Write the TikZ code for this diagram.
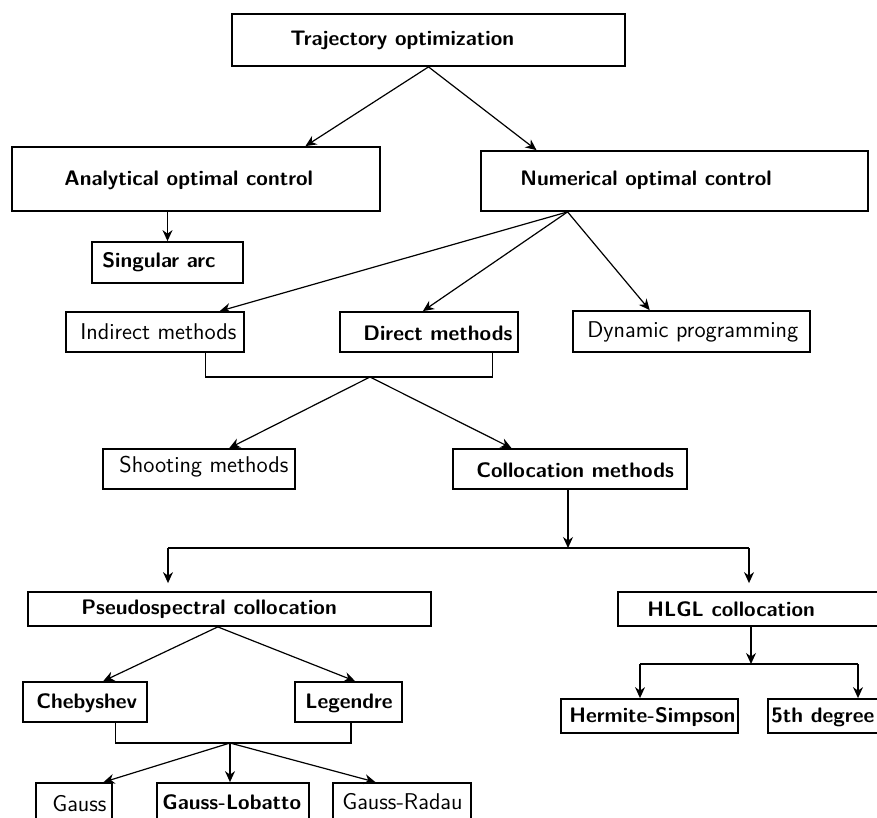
\documentclass[tikz,border=0pt]{standalone}
\usetikzlibrary{arrows.meta,calc,fit}
\begin{document}
\begin{tikzpicture}[
  x={(0.5pt,0)}, y={(0,-0.5pt)},
  box/.style={draw, line width=0.9pt, inner sep=0pt},
  lbl/.style={anchor=west, inner sep=0pt, font=\sffamily\fontsize{11.4}{13}\selectfont},
  blbl/.style={anchor=west, inner sep=0pt, font=\sffamily\bfseries\fontsize{10.5}{12}\selectfont},
  arr/.style={-{Stealth[length=5.5pt,width=5pt]}, line width=0.6pt},
  ln/.style={line width=0.6pt}
]
\clip (0,0) rectangle (877,818);

% ---- boxes ----
\node[box, fit={(232,14) (625,66)}]   (traj) {};
\node[box, fit={(12,147) (380,211)}]  (ana)  {};
\node[box, fit={(481,151) (868,211)}] (num)  {};
\node[box, fit={(92,242) (243,283)}]  (sing) {};
\node[box, fit={(66,312) (244,352)}]  (ind)  {};
\node[box, fit={(340,312) (518,352)}] (dir)  {};
\node[box, fit={(573,311) (810,352)}] (dyn)  {};
\node[box, fit={(103,449) (295,489)}] (shoot) {};
\node[box, fit={(453,449) (687,489)}] (col)  {};
\node[box, fit={(28,592) (431,626)}]  (ps)   {};
\node[box, fit={(618,592) (890,626)}] (hlgl) {};
\node[box, fit={(23,682) (147,722)}]  (cheb) {};
\node[box, fit={(295,682) (402,722)}] (leg)  {};
\node[box, fit={(561,699) (738,733)}] (herm) {};
\node[box, fit={(768,699) (890,733)}] (fifth) {};
\node[box, fit={(36,783) (112,840)}]  (gauss) {};
\node[box, fit={(157,783) (309,840)}] (lob)  {};
\node[box, fit={(333,783) (471,840)}] (rad)  {};

% ---- labels ----
\node[blbl] (trajt)  at (290,40)  {Trajectory optimization};
\node[blbl] (anat)   at (64,180)  {Analytical optimal control};
\node[blbl] (numt)   at (520,180) {Numerical optimal control};
\node[blbl] (singt)  at (102,262) {Singular arc};
\node[lbl]  (indt)   at (80,332)  {Indirect methods};
\node[blbl] (dirt)   at (363,333) {Direct methods};
\node[lbl]  (dynt)   at (587,332) {Dynamic programming};
\node[lbl]  (shoott) at (119,467) {Shooting methods};
\node[blbl] (colt)   at (476,470) {Collocation methods};
\node[blbl] (pst)    at (81,609)  {Pseudospectral collocation};
\node[blbl] (hlglt)  at (647,609) {HLGL collocation};
\node[blbl] (chebt)  at (36,703)  {Chebyshev};
\node[blbl] (legt)   at (305,703) {Legendre};
\node[blbl] (hermt)  at (569,717) {Hermite-Simpson};
\node[blbl] (fiftht) at (771,717) {5th degree};
\node[lbl]  (gausst) at (52,804)  {Gauss};
\node[blbl] (lobt)   at (162,802) {Gauss-Lobatto};
\node[lbl]  (radt)   at (342,802) {Gauss-Radau};

% ---- junction points ----
\coordinate (j1)  at (370,377);
\coordinate (j2)  at (568,548);
\coordinate (j2L) at (168,548);
\coordinate (j2R) at (749,548);
\coordinate (j3)  at (230,743);
\coordinate (j4)  at (751,664);
\coordinate (j4L) at (640,664);
\coordinate (j4R) at (858,664);

% ---- connectors ----
\draw[arr] (traj.south) -- ($(ana.north west)!0.796!(ana.north east)$);
\draw[arr] (traj.south) -- ($(num.north west)!0.145!(num.north east)$);
\draw[arr] (sing.north |- ana.south) -- (sing.north);

\coordinate (numo) at ($(num.south west)!0.225!(num.south east)$);
\draw[arr] (numo) -- ($(ind.north west)!0.86!(ind.north east)$);
\draw[arr] (numo) -- ($(dir.north west)!0.466!(dir.north east)$);
\draw[arr] (numo) -- ($(dyn.north west)!0.325!(dyn.north east)$);

\draw[ln] ($(ind.south west)!0.78!(ind.south east)$) |- (j1)
          -| ($(dir.south west)!0.854!(dir.south east)$);
\draw[arr] (j1) -- ($(shoot.north west)!0.656!(shoot.north east)$);
\draw[arr] (j1) -- ($(col.north west)!0.252!(col.north east)$);

\draw[arr] (j2 |- col.south) -- (j2);
\draw[ln] (j2L) -- (j2R);
\draw[arr, shorten >=4pt] (j2L) -- (j2L |- ps.north);
\draw[arr, shorten >=4pt] (j2R) -- (j2R |- hlgl.north);

\coordinate (pso) at ($(ps.south west)!0.471!(ps.south east)$);
\draw[arr] (pso) -- ($(cheb.north west)!0.645!(cheb.north east)$);
\draw[arr] (pso) -- ($(leg.north west)!0.56!(leg.north east)$);

\draw[ln] ($(cheb.south west)!0.742!(cheb.south east)$) |- (j3)
          -| ($(leg.south west)!0.523!(leg.south east)$);
\draw[arr] (j3) -- ($(gauss.north west)!0.88!(gauss.north east)$);
\draw[arr] (j3) -- (j3 |- lob.north);
\draw[arr] (j3) -- ($(rad.north west)!0.31!(rad.north east)$);

\draw[arr] (j4 |- hlgl.south) -- (j4);
\draw[ln] (j4L) -- (j4R);
\draw[arr] (j4L) -- (j4L |- herm.north);
\draw[arr] (j4R) -- (j4R |- fifth.north);
\end{tikzpicture}
\end{document}
